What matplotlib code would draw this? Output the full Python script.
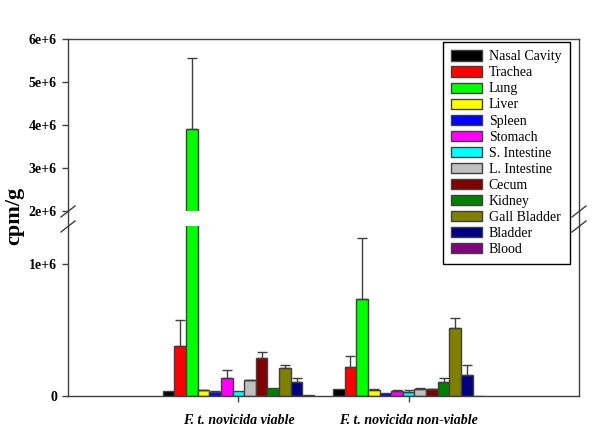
import numpy as np
import matplotlib.pyplot as plt
from matplotlib.lines import Line2D
from matplotlib.ticker import FuncFormatter

plt.rcParams['font.family'] = ['Liberation Serif', 'DejaVu Serif']

groups = ['F. t. novicida viable', 'F. t. novicida non-viable']
organs = ['Nasal Cavity', 'Trachea', 'Lung', 'Liver', 'Spleen', 'Stomach',
          'S. Intestine', 'L. Intestine', 'Cecum', 'Kidney', 'Gall Bladder',
          'Bladder', 'Blood']
colors = ['#000000', '#FF0000', '#00FF00', '#FFFF00', '#0000FF', '#FF00FF',
          '#00FFFF', '#C0C0C0', '#800000', '#008000', '#808000', '#000080',
          '#800080']

viable = [40000, 380000, 3910000, 42000, 28000, 133000, 35000, 120000,
          290000, 58000, 216000, 105000, 6000]
viable_err = [0, 200000, 1640000, 3000, 7000, 67000, 0, 3000,
              46000, 0, 22000, 35000, 0]
nonviable = [50000, 220000, 735000, 45000, 25000, 35000, 30000, 55000,
             50000, 110000, 516000, 160000, 0]
nonviable_err = [0, 80000, 465000, 10000, 0, 10000, 12000, 3000,
                 5000, 28000, 74000, 75000, 0]

W, H = 600, 436
fig = plt.figure(figsize=(W / 100, H / 100), dpi=100)

# axes boxes in pixels: left, right, top, bottom
L, R = 68, 579
up_top, up_bot = 39, 211
lo_top, lo_bot = 226, 396

def box(top, bot):
    return [L / W, 1 - bot / H, (R - L) / W, (bot - top) / H]

ax_up = fig.add_axes(box(up_top, up_bot))
ax_lo = fig.add_axes(box(lo_top, lo_bot))

edge = '#404040'
w = 0.0684
data = [(viable, viable_err), (nonviable, nonviable_err)]

for ax in (ax_up, ax_lo):
    for g, (vals, errs) in enumerate(data):
        for i in range(len(organs)):
            x = g + (i - 6) * w
            ax.bar(x, vals[i], width=w, color=colors[i], edgecolor=edge,
                   linewidth=1.0, label=organs[i] if g == 0 else None)
            if errs[i] > 0:
                ax.errorbar(x, vals[i], yerr=[[0], [errs[i]]], fmt='none',
                            ecolor=edge, elinewidth=1.0, capsize=3.3,
                            capthick=1.0)
    ax.set_xlim(-1, 2)
    for s in ax.spines.values():
        s.set_color(edge)
        s.set_linewidth(1.0)
    ax.tick_params(axis='y', direction='out', length=4, width=1,
                   color=edge, pad=4, labelsize=10)

fmt = FuncFormatter(lambda v, p: '0' if v == 0 else '%de+6' % round(v / 1e6))

ax_up.set_ylim(2e6, 6e6)
ax_up.set_yticks([2e6, 3e6, 4e6, 5e6, 6e6])
ax_up.yaxis.set_major_formatter(fmt)
ax_up.spines['bottom'].set_visible(False)
ax_up.set_xticks([])

ax_lo.set_ylim(0, 1.29e6)
ax_lo.set_yticks([0, 1e6])
ax_lo.yaxis.set_major_formatter(fmt)
ax_lo.spines['top'].set_visible(False)
ax_lo.set_xticks([0, 1])
ax_lo.set_xticklabels(groups, fontsize=10, fontweight='bold', style='italic')
ax_lo.tick_params(axis='x', direction='out', length=4, width=1,
                  color=edge, pad=9)

for ax in (ax_up, ax_lo):
    for lab in ax.get_yticklabels():
        lab.set_fontweight('bold')

# spines through the gap and break marks
def fig_line(x0, y0, x1, y1, **kw):
    fig.add_artist(Line2D([x0 / W, x1 / W], [1 - y0 / H, 1 - y1 / H],
                          transform=fig.transFigure, color=edge,
                          linewidth=1.0, **kw))

for xs in (L, R):
    fig_line(xs, up_bot, xs, lo_top)
    fig_line(xs - 7, up_bot + 6, xs + 7, up_bot - 5)
    fig_line(xs - 7, lo_top + 6, xs + 7, lo_top - 5)

fig.text(14 / W, 1 - 216 / H, 'cpm/g', rotation=90, ha='center',
         va='center', fontsize=16, fontweight='bold')

handles, labels = ax_lo.get_legend_handles_labels()
leg = fig.legend(handles, labels, loc='upper left',
                 bbox_to_anchor=(443 / W, 1 - 42 / H), fontsize=10,
                 frameon=True, fancybox=False, edgecolor='black',
                 framealpha=1, borderpad=0.6, labelspacing=0.22,
                 handlelength=2.2, handleheight=0.75, handletextpad=0.5,
                 borderaxespad=0)
leg.get_frame().set_linewidth(1.0)
leg.set_zorder(10)

fig.savefig('out.png', dpi=100)
